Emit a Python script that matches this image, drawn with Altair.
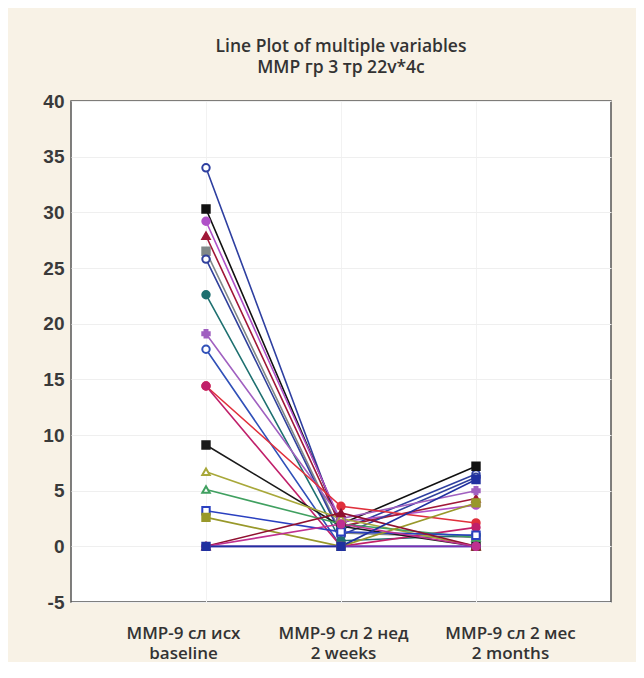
import altair as alt
import pandas as pd

categories = ["MMP-9 сл исх|baseline", "MMP-9 сл 2 нед|2 weeks", "MMP-9 сл 2 мес|2 months"]
cat_pos = [1, 2, 3]

baseline = [34.0, 30.3, 29.2, 27.9, 26.5, 25.8, 22.6, 19.1, 17.7, 14.4, 14.4, 9.1, 6.7, 5.1, 3.2, 2.6, 0.0, 0.0, 0.0, 0.0]
weeks2   = [1.5, 2.0, 2.2, 1.8, 1.2, 1.0, 0.5, 2.5, 0.0, 3.6, 0.0, 1.8, 2.5, 2.0, 1.3, 0.0, 0.0, 3.0, 2.0, 0.0]
months2  = [6.5, 7.2, 3.7, 4.3, 0.8, 6.2, 1.0, 5.0, 0.0, 2.1, 1.7, 0.0, 0.0, 0.8, 1.0, 3.9, 0.0, 0.0, 0.0, 6.0]
colors = ["#2E3FA0", "#111111", "#B050C8", "#A01838", "#808888", "#30409C", "#1E7070", "#A060C0",
          "#3050B8", "#E0303C", "#C0206A", "#1A1A1A", "#A8A83A", "#40A060", "#2A40C0", "#98982A",
          "#7A30B0", "#901030", "#C03090", "#2030A0"]
shapes = ["circle", "square", "circle", "triangle-up", "square", "circle", "circle", "cross",
          "circle", "circle", "circle", "square", "triangle-up", "triangle-up", "square", "square",
          "circle", "triangle-up", "circle", "square"]
filled = [False, True, True, True, True, False, True, True, False, True, True, True, False, False, False, True,
          True, True, True, True]

rows = []
for i in range(len(baseline)):
    for pos, vals in zip(cat_pos, [baseline, weeks2, months2]):
        rows.append({
            "series": f"s{i}",
            "x": pos,
            "y": vals[i],
            "color": colors[i],
            "fillc": colors[i] if filled[i] else "#FFFFFF",
            "shape": shapes[i],
        })
df = pd.DataFrame(rows)

label_expr = ("datum.value == 1 ? ['" + categories[0].replace("|", "','") + "'] : "
              "datum.value == 2 ? ['" + categories[1].replace("|", "','") + "'] : "
              "datum.value == 3 ? ['" + categories[2].replace("|", "','") + "'] : ''")

x = alt.X("x:Q", scale=alt.Scale(domain=[0, 4], nice=False),
          axis=alt.Axis(values=cat_pos, labelExpr=label_expr, title=None, grid=True,
                        gridColor="#F2F2F2", tickSize=0, domain=False, labelPadding=23,
                        labelFont="Open Sans", labelFontSize=17, labelFontWeight=600,
                        labelColor="#333333", labelLineHeight=20,
                        labelOffset={"condition": [{"test": "datum.value == 1", "value": -23},
                                                   {"test": "datum.value == 3", "value": 34}],
                                     "value": 2}))
y = alt.Y("y:Q", scale=alt.Scale(domain=[-5, 40], nice=False),
          axis=alt.Axis(values=list(range(-5, 41, 5)), title=None, grid=True, gridColor="#EFEFEF",
                        tickSize=0, domain=False, labelPadding=7, labelFont="Liberation Sans",
                        labelExpr="datum.value < 0 ? '-' + abs(datum.value) : '' + datum.value",
                        labelFontSize=19, labelFontWeight="bold", labelColor="#3A3A3A"))

base = alt.Chart(df)
lines = base.mark_line(strokeWidth=1.6).encode(
    x=x, y=y, detail="series:N", stroke=alt.Stroke("color:N", scale=None))
points = base.mark_point(size=55, strokeWidth=2, opacity=1).encode(
    x=x, y=y, stroke=alt.Stroke("color:N", scale=None), fill=alt.Fill("fillc:N", scale=None),
    shape=alt.Shape("shape:N", scale=None))

chart = alt.layer(lines, points).properties(
    width=540, height=501,
    background="#F8F2E6",
    padding={"left": 63, "top": 93, "right": 25, "bottom": 60},
    autosize=alt.AutoSizeParams(type="none"),
    title=alt.TitleParams(text=["Line Plot of multiple variables", "MMP гр 3 тр 22v*4c"],
                          font="Open Sans", fontSize=17.5, fontWeight=600, color="#333333",
                          lineHeight=21, offset=16, anchor="middle"),
).configure_view(fill="white", stroke="#555555", strokeWidth=1.5)

chart.save("out.html", embed_options={"renderer": "svg", "actions": False})
